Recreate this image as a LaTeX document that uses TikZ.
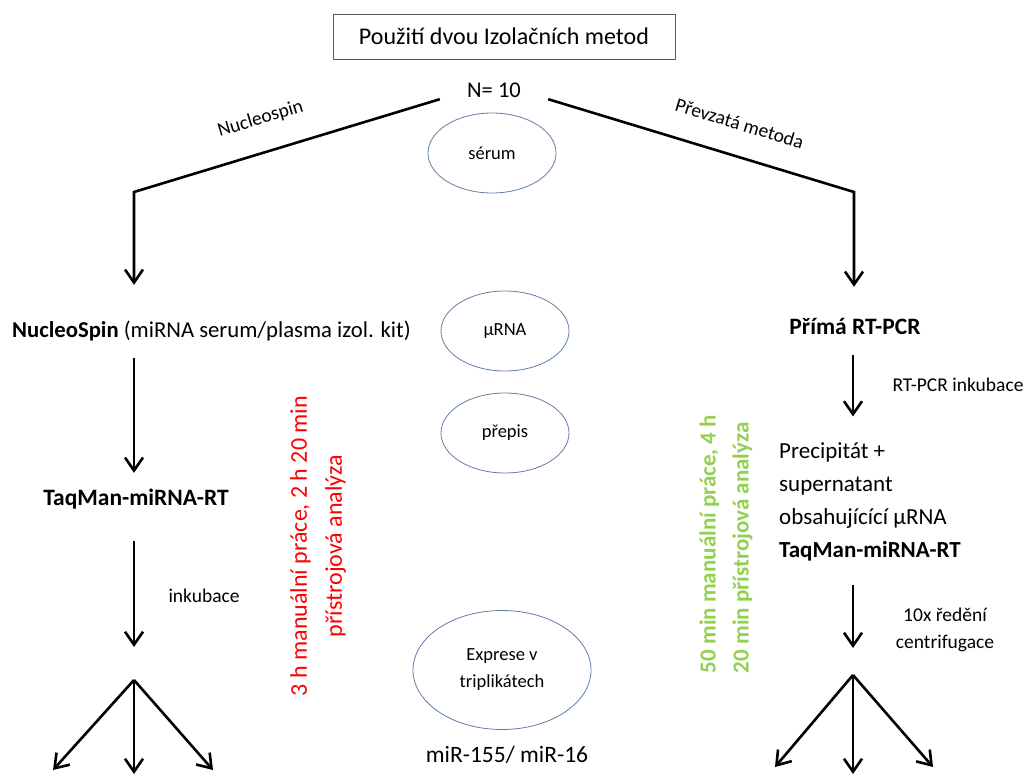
\documentclass[tikz,border=0pt]{standalone}
\usepackage{fontspec}
\setmainfont{Carlito}
\usetikzlibrary{arrows.meta,shapes.geometric}
\definecolor{ellblue}{RGB}{96,124,168}
\definecolor{timered}{RGB}{255,0,0}
\definecolor{timegreen}{RGB}{146,208,80}
\begin{document}
\begin{tikzpicture}[x=1pt,y=-1pt,
  arrow/.style={draw,line width=2.6pt,-{Straight Barb[length=13pt,width=18pt]}},
  fork/.style={draw,line width=2.6pt},
  oval/.style={ellipse,draw=ellblue,line width=0.8pt,minimum width=128pt,minimum height=80pt,inner sep=0pt,align=center,font=\fontsize{18.5}{27}\selectfont},
  big/.style={font=\fontsize{23.5}{28}\selectfont,text height=15pt,text depth=5pt,inner sep=0pt},
  bigbold/.style={big,font=\fontsize{23.5}{28}\selectfont\bfseries},
  small/.style={font=\fontsize{19.5}{24}\selectfont}]
\useasboundingbox (0,0) rectangle (1023,774);
% titles
\node[draw=black!65,line width=1pt,minimum width=342pt,minimum height=45pt,font=\fontsize{24}{28}\selectfont] (title) at (504,36.5) {Použití dvou Izolačních metod};
\node[minimum width=108pt,minimum height=18pt,inner sep=0pt,font=\fontsize{22.5}{26}\selectfont] (nten) at (494,90) {N= 10};
% middle column
\node[oval] (serum) at (492,153) {sérum};
\node[oval] (murna) at (505,331) {µRNA};
\node[oval] (prepis) at (505,433) {přepis};
\node[oval,minimum width=178pt,minimum height=119pt] (exprese) at (502,670) {Exprese v\\triplikátech};
\node[big] (mir) at (507,757) {miR-155/ miR-16};
% left branch
\coordinate (lc) at (134,192);
\coordinate (forkL) at (134,680);
\node[big,anchor=west,font=\fontsize{22.7}{28}\selectfont] (nsL) at (12,332) {\textbf{NucleoSpin} (miRNA serum/plasma izol. kit)};
\node[bigbold] (taqL) at (136,500) {TaqMan-miRNA-RT};
\node[small,anchor=west] (inkL) at (165,596) {inkubace};
\node[rotate=90,align=center,text=timered,font=\fontsize{24}{35}\selectfont] (timeL) at (318,546) {3 h manuální práce, 2 h 20 min\\přístrojová analýza};
% right branch
\coordinate (rc) at (854,192);
\coordinate (forkR) at (853,675);
\node[bigbold] (prima) at (855,329) {Přímá RT-PCR};
\node[small,anchor=west] (inkR) at (889,385) {RT-PCR inkubace};
\node[anchor=north west,align=left,inner sep=0pt,font=\fontsize{23}{33}\selectfont] (precip) at (779,442) {Precipitát +\\supernatant\\obsahujícící µRNA\\\textbf{TaqMan-miRNA-RT}};
\node[small,align=center,font=\fontsize{19.5}{27}\selectfont] (redeni) at (945,630) {10x ředění\\centrifugace};
\node[rotate=90,align=left,text=timegreen,font=\fontsize{23}{33}\selectfont\bfseries] (timeR) at (726,544) {50 min manuální práce, 4 h\\20 min přístrojová analýza};
% connectors
\draw[arrow,shorten >=37pt] (nten.south west) -- node[sloped,pos=0.555,above=20pt,small] {Nucleospin} (lc) -- (lc |- nsL.north);
\draw[arrow,shorten >=32pt] (nten.south east) -- node[sloped,pos=0.595,above=21pt,small] {Převzatá metoda} (rc) -- (rc |- prima.north);
\draw[arrow,shorten <=16pt,shorten >=17pt] (nsL.south -| lc) -- (taqL.north -| lc);
\draw[arrow,shorten <=31pt,shorten >=33pt] (taqL.south -| lc) -- (forkL);
\draw[arrow,shorten <=16pt,shorten >=25.5pt] (prima.south -| forkR) -- (precip.north -| forkR);
\draw[arrow,shorten <=24.6pt,shorten >=27pt] (precip.south -| forkR) -- (forkR);
\foreach \dx/\dy in {-81/90,0/94,79/90}
  \draw[arrow] (forkL) -- ++(\dx,\dy);
\foreach \dx/\dy in {-78/92,0/99,80/92}
  \draw[arrow] (forkR) -- ++(\dx,\dy);
\end{tikzpicture}
\end{document}
